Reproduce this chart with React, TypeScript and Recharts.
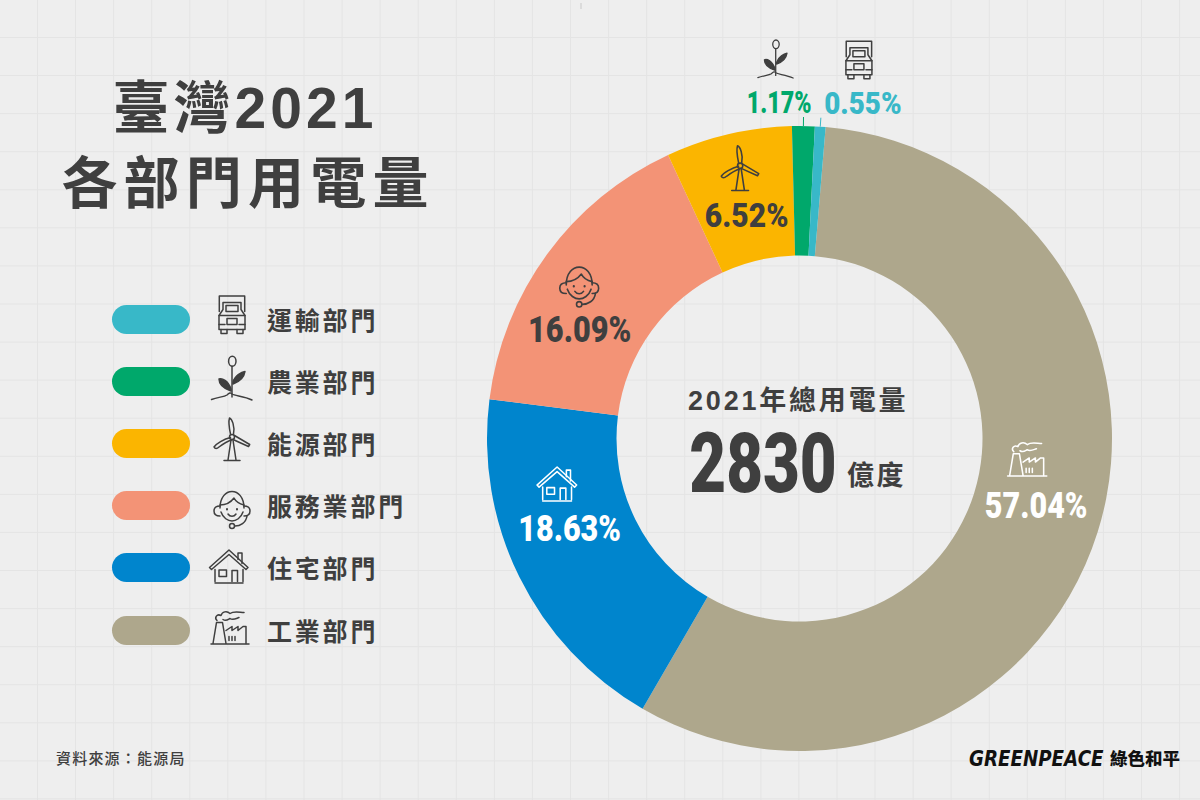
import React from 'react';
import { PieChart, Pie, Cell, Legend } from 'recharts';

const SECTORS = ['工業部門', '住宅部門', '服務業部門', '能源部門', '農業部門', '運輸部門'];
const SHARES = [57.04, 18.63, 16.09, 6.52, 1.17, 0.55];
const COLORS = ['#aea78c', '#0085cd', '#f39376', '#fbb500', '#00a86b', '#38b8c8'];
const ICON_KEYS = ['factory', 'house', 'headset', 'turbine', 'plant', 'truck'];

const INK = '#3f3f3f';
const NUM_FONT = 'Roboto, sans-serif';
const CJK = '"Noto Sans CJK TC", sans-serif';
const MIXED = '"Liberation Sans", "Noto Sans CJK TC", sans-serif';

const chartData = SECTORS.map((name, i) => ({ name, value: SHARES[i] }));

// label and icon offsets from each slice's anchor point
const TEXT_NUDGE = [[0, -8.5], [-7.5, -21], [-19.5, 37], [3.5, 18], [-24.5, 1], [41, 1]];
const ICON_NUDGE = [[-9, -54], [-20, -64.5], [-20, -5], [-3, -29], [-28, -43], [37, -42]];
const ICON_SCALE = [1.03, 1.03, 1.08, 1.05, 0.87, 1];
const LEGEND_ICON_NUDGE = [[-2, -3.5], [-3, -1.5], [0, 4], [0, -5], [0, -5], [0, -5.5]];
const TEXT_COLORS = ['#ffffff', '#ffffff', INK, INK, '#00a86b', '#38b8c8'];
const ICON_COLORS = ['#ffffff', '#ffffff', INK, INK, INK, INK];
const TEXT_SQUEEZE = [0.825, 0.825, 0.83, 0.883, 0.75, 0.897];
const TEXT_SIZES = [37, 37, 37, 34, 31, 31];

const Icon = ({ kind, color, x = 0, y = 0, scale = 1 }: { kind: string; color: string; x?: number; y?: number; scale?: number }) => {
    const s = { fill: 'none', stroke: color, strokeWidth: 1.5, strokeLinejoin: 'round' as const, strokeLinecap: 'round' as const };
    return (
        <g transform={`translate(${x} ${y}) scale(${scale})`} {...s}>
            {kind === 'truck' && (
                <>
                    <path d="M-12.7 -3V-18.5H12.7V-3" />
                    <path d="M-9 -5V-12H9V-5L13 1V15H-13V1Z" />
                    <path d="M-6 -9H6V-3H-6Z" />
                    <path d="M-13 1H13M-5 4H5V10H-5ZM-13 10H-7M7 10H13" />
                    <path d="M-11 15V19H-5V15M5 15V19H11V15" />
                </>
            )}
            {kind === 'plant' && (
                <>
                    <ellipse cx={0.3} cy={-15.7} rx={3.7} ry={5} />
                    <path d="M0 -10.7V20" />
                    <path d="M-1 12C-4 3 -10 1 -13 2C-13 8 -7 12 -1 14Z" fill={color} />
                    <path d="M1 5C3 -2 10 -5 13 -5.5C12 1 7 5 1 7Z" fill={color} />
                    <path d="M-20.5 22.5C-14 20 -8 20 -5 18C-3 16 -1 15 0 17C3 19 12 19 20 23" />
                </>
            )}
            {kind === 'turbine' && (
                <>
                    <circle cx={0} cy={-2} r={2.5} />
                    <path d="M-1.5 -5C-3 -12 -3.5 -18 -2.5 -21C0 -20 3 -13 1.5 -5" />
                    <path d="M2.5 -3.5L17.7 5.5L16.5 7.5L1 0.5" />
                    <path d="M-1.5 -1.5C-8 0 -16 5 -18 8C-17 10 -15 10 -13 8C-9 5 -4 2 -0.5 1" />
                    <path d="M-1 1L-4 21M1 1L4 21M-8 21.5H8" />
                </>
            )}
            {kind === 'headset' && (
                <>
                    <path d="M-12 -2C-12 -13 -6 -18.5 0 -18.5C6 -18.5 12 -13 12 -2" />
                    <path d="M-12 -5C-6 -5 -1 -8 2 -12C4 -8 8 -6 12 -5" />
                    <path d="M-11 2C-9 8 -4 11 0 11C4 11 9 8 11 2" />
                    <path d="M-12 -4C-16 -4 -18 -2 -18 1C-18 4 -16 6 -12 6" />
                    <path d="M12 -4C16 -4 18 -2 18 1C18 4 16 6 12 6" />
                    <path d="M15 6C14 13 8 16 3 16" />
                    <circle cx={0} cy={16} r={2.5} />
                    <path d="M-5 -1V-0.5M5 -1V-0.5" strokeWidth={2} />
                    <path d="M-4 4C-2 7 2 7 4 4" />
                </>
            )}
            {kind === 'house' && (
                <>
                    <path d="M-19.5 1L0 -16.5L19 1L17 3L0 -12L-17.5 3Z" />
                    <path d="M9 -7V-13.5H13V-3" />
                    <path d="M-14 3V15M14 3V15M-14 16.5H14" />
                    <path d="M-10 3.5H-2.5V10H-10ZM3 15V4H8.5V15" />
                </>
            )}
            {kind === 'factory' && (
                <>
                    <path d="M-17 16L-13.5 -5H-7.5L-4 16M-19 16.5H19" />
                    <path d="M-13 -7C-16 -10 -13 -14 -9 -12C-8 -16 -3 -17 0 -14C4 -17 10 -15 14 -15" />
                    <path d="M-7 -8C-4 -6 -2 -8 0 -9C3 -7 6 -9 9 -10" />
                    <path d="M-4 3L2 -1V3L8 -1V3L13 -1H16V16" />
                    <path d="M-1 13V9M2 13V9M5 13V9" />
                </>
            )}
        </g>
    );
};

const renderSliceLabel = (props: any) => {
    const { cx, cy, midAngle, outerRadius, index } = props;
    const rad = (-midAngle * Math.PI) / 180;
    const outside = SHARES[index] < 2;
    const r = outside ? outerRadius + 25 : outerRadius * 0.794;
    const ax = cx + r * Math.cos(rad);
    const ay = cy + r * Math.sin(rad);
    const [tx, ty] = TEXT_NUDGE[index];
    const [ix, iy] = ICON_NUDGE[index];
    const size = TEXT_SIZES[index];
    return (
        <g key={SECTORS[index]}>
            {outside && (
                <line
                    x1={cx + outerRadius * Math.cos(rad)}
                    y1={cy + outerRadius * Math.sin(rad)}
                    x2={cx + (outerRadius + 9) * Math.cos(rad)}
                    y2={cy + (outerRadius + 9) * Math.sin(rad)}
                    stroke={COLORS[index]}
                    strokeWidth={1}
                />
            )}
            <Icon kind={ICON_KEYS[index]} color={ICON_COLORS[index]} x={ax + ix} y={ay + iy} scale={ICON_SCALE[index]} />
            <text
                transform={`translate(${ax + tx} ${ay + ty + size * 0.355}) scale(${TEXT_SQUEEZE[index]} 1)`}
                textAnchor="middle"
                fill={TEXT_COLORS[index]}
                fontFamily={NUM_FONT}
                fontWeight={900}
                fontSize={size}
            >
                {SHARES[index].toFixed(2)}%
            </text>
        </g>
    );
};

const SectorLegend = ({ payload }: any) => {
    const rows = [...(payload || [])].reverse();
    return (
        <div style={{ position: 'relative', width: 320, height: 370 }}>
            {rows.map((entry: any, i: number) => {
                const idx = SECTORS.indexOf(entry.value);
                const top = i * 62.2;
                const [nx, ny] = LEGEND_ICON_NUDGE[idx];
                return (
                    <div key={entry.value} style={{ position: 'absolute', left: 0, top, width: 320, height: 29 }}>
                        <div style={{ position: 'absolute', left: 0, top: 0, width: 78, height: 29, borderRadius: 14.5, background: COLORS[idx] }} />
                        <svg width={50} height={50} style={{ position: 'absolute', left: 95, top: -10, overflow: 'visible' }}>
                            <Icon kind={ICON_KEYS[idx]} color={INK} x={25 + nx} y={25 + ny} />
                        </svg>
                        <div style={{ position: 'absolute', left: 155, top: -4, fontFamily: CJK, fontWeight: 700, fontSize: 25, lineHeight: '36px', letterSpacing: 2.8, color: INK, whiteSpace: 'nowrap' }}>
                            {entry.value}
                        </div>
                    </div>
                );
            })}
        </div>
    );
};

const GRID = Array.from({ length: 32 }, (_, i) => 37.5 + i * 38.07);

export default function App() {
    return (
        <div style={{ position: 'absolute', left: 0, top: 0, width: 1200, height: 800, background: '#eeeeee', overflow: 'hidden' }}>
            <svg width={1200} height={800} style={{ position: 'absolute', left: 0, top: 0 }}>
                {GRID.map((p) => (
                    <g key={p} stroke="#e4e4e4" strokeWidth={1}>
                        <line x1={p} y1={0} x2={p} y2={800} />
                        <line x1={0} y1={p} x2={1200} y2={p} />
                    </g>
                ))}
                <line x1={581} y1={3} x2={581} y2={9} stroke="#c8c8c8" />
                <g fill={INK} fontFamily={MIXED} fontWeight={700}>
                    <text x={245} y={128} fontSize={57} letterSpacing={4} textAnchor="middle">臺灣2021</text>
                    <text x={248} y={203} fontSize={56} letterSpacing={6.2} textAnchor="middle">各部門用電量</text>
                    <text x={688} y={410} fontSize={27} letterSpacing={2.8}>2021年總用電量</text>
                    <text x={847} y={485} fontSize={27} letterSpacing={2.5}>億度</text>
                </g>
                <text transform="translate(763 492) scale(0.757 1)" textAnchor="middle" fontFamily={NUM_FONT} fontWeight={900} fontSize={84} fill={INK}>2830</text>
                <text x={56} y={764} fontFamily={CJK} fontSize={15} fontWeight={500} fill={INK} letterSpacing={1.2}>資料來源：能源局</text>
                <text transform="translate(969 766) scale(0.83 1)" fontFamily='"DejaVu Sans", sans-serif' fontStyle="italic" fontWeight={700} fontSize={22} fill="#111111">GREENPEACE</text>
                <text x={1110} y={765} fontFamily={CJK} fontWeight={900} fontSize={17.5} fill="#111111">綠色和平</text>
            </svg>
            <div style={{ position: 'absolute', left: 0, top: 0 }}>
                <PieChart width={1200} height={800} margin={{ top: 0, right: 0, bottom: 0, left: 0 }}>
                    <Legend
                        content={<SectorLegend />}
                        itemSorter={null}
                        wrapperStyle={{ position: 'absolute', left: 112, top: 304.5, width: 320, bottom: 'auto' }}
                    />
                    <Pie
                        data={chartData}
                        dataKey="value"
                        nameKey="name"
                        cx={799.5}
                        cy={438.5}
                        innerRadius={183}
                        outerRadius={312.5}
                        startAngle={85.2}
                        endAngle={-274.8}
                        stroke="none"
                        label={renderSliceLabel}
                        labelLine={false}
                        isAnimationActive={false}
                    >
                        {chartData.map((d, i) => (
                            <Cell key={d.name} fill={COLORS[i]} />
                        ))}
                    </Pie>
                </PieChart>
            </div>
        </div>
    );
}
